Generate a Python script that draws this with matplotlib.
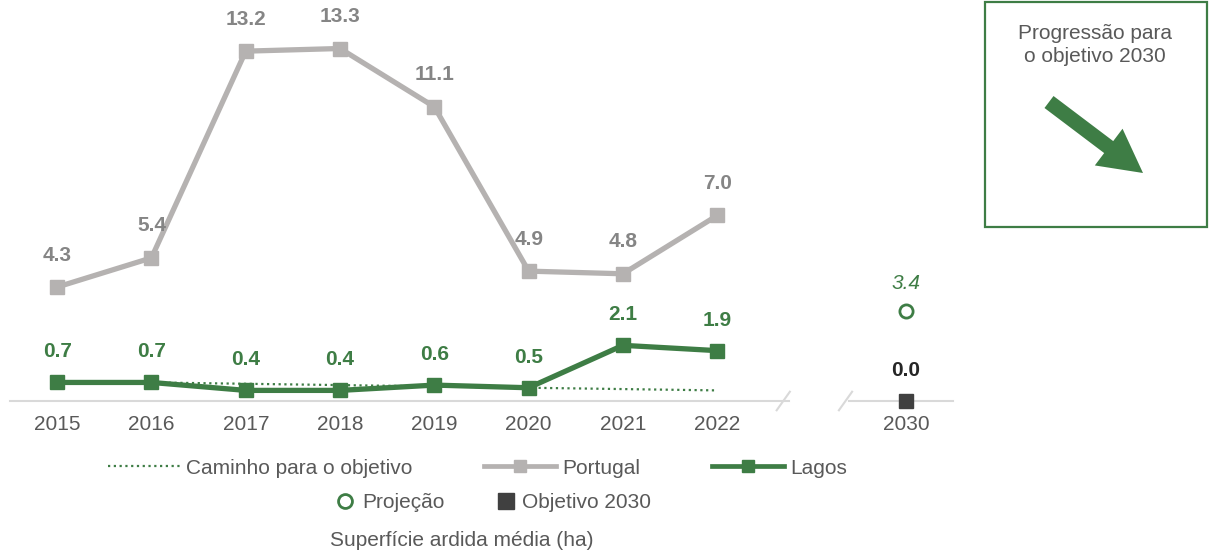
import matplotlib
matplotlib.use("Agg")
import matplotlib.pyplot as plt
from matplotlib.lines import Line2D
from matplotlib.patches import Rectangle, FancyArrow

plt.rcParams['font.family'] = ['Liberation Sans', 'DejaVu Sans']

# ---- data ----
years = ["2015", "2016", "2017", "2018", "2019", "2020", "2021", "2022"]
portugal = [4.3, 5.4, 13.2, 13.3, 11.1, 4.9, 4.8, 7.0]
lagos = [0.7, 0.7, 0.4, 0.4, 0.6, 0.5, 2.1, 1.9]
path_years = ["2016", "2022"]
path_vals = [0.7, 0.4]
target_year = "2030"
projection = 3.4
objective = 0.0

GREEN = "#3E7D45"
GREY_LINE = "#B5B2B1"
GREY_LAB = "#858585"
TXT = "#595959"
DARK = "#404040"
FS = 15

fig = plt.figure(figsize=(12.14, 5.53), dpi=100)
W, H = 1214, 553
ax = fig.add_axes([10 / W, 1 - 401 / H, 943 / W, 401 / H])

pos = {y: i for i, y in enumerate(years)}
pos[target_year] = len(years) + 1
xs = [pos[y] for y in years]

ax.set_xlim(-0.5, 9.5)
ax.set_ylim(0, 15.13)

# path to objective
ax.plot([pos[y] for y in path_years], path_vals, color=GREEN, lw=1.6,
        linestyle=(0, (1, 1.6)), zorder=2)
# Portugal
ax.plot(xs, portugal, color=GREY_LINE, lw=3.8, marker="s", ms=9.5,
        zorder=3, clip_on=False)
# Lagos
ax.plot(xs, lagos, color=GREEN, lw=3.8, marker="s", ms=9.5,
        zorder=4, clip_on=False)
# projection & objective
ax.plot([pos[target_year]], [projection], marker="o", ms=9.5, mfc="white",
        mec=GREEN, mew=2, ls="none", zorder=5, clip_on=False)
ax.plot([pos[target_year]], [objective], marker="s", ms=9.5, color=DARK,
        ls="none", zorder=5, clip_on=False)

# data labels
for x, v in zip(xs, portugal):
    ax.annotate(f"{v:.1f}", (x, v), xytext=(0, 23), textcoords="offset points",
                ha="center", va="center", fontsize=15, fontweight="bold",
                color=GREY_LAB)
for x, v in zip(xs, lagos):
    ax.annotate(f"{v:.1f}", (x, v), xytext=(0, 22), textcoords="offset points",
                ha="center", va="center", fontsize=15, fontweight="bold",
                color=GREEN)
ax.annotate(f"{projection:.1f}", (pos[target_year], projection), xytext=(0, 20),
            textcoords="offset points", ha="center", va="center", fontsize=15,
            fontstyle="italic", color=GREEN)
ax.annotate(f"{objective:.1f}", (pos[target_year], objective), xytext=(0, 22),
            textcoords="offset points", ha="center", va="center", fontsize=15,
            fontweight="bold", color="#262626")

# axis
for s in ax.spines.values():
    s.set_visible(False)
ax.set_yticks([])
ax.set_xticks(xs + [pos[target_year]])
ax.set_xticklabels(years + [target_year], fontsize=FS, color=TXT)
ax.tick_params(axis="x", length=0, pad=10)

AX_C = "#D9D9D9"
ax.plot([-0.5, 7.76], [0, 0], color=AX_C, lw=1.5, zorder=1, clip_on=False)
ax.plot([8.40, 9.5], [0, 0], color=AX_C, lw=1.5, zorder=1, clip_on=False)
for bx in (7.70, 8.36):
    ax.plot([bx - 0.07, bx + 0.07], [-0.35, 0.35], color=AX_C, lw=1.5,
            zorder=1, clip_on=False)

# legends
h_path = Line2D([], [], color=GREEN, lw=1.6, linestyle=(0, (1, 1.6)))
h_pt = Line2D([], [], color=GREY_LINE, lw=3.4, marker="s", ms=8)
h_lg = Line2D([], [], color=GREEN, lw=3.4, marker="s", ms=8.5)
fig.legend([h_path, h_pt, h_lg],
           ["Caminho para o objetivo", "Portugal", "Lagos"],
           loc="center", bbox_to_anchor=(477.5 / W, 1 - 468 / H), ncol=3,
           frameon=False, fontsize=FS, handlelength=3.45,
           handletextpad=0.3, columnspacing=3.45, labelcolor=TXT)
h_pr = Line2D([], [], marker="o", ms=10, mfc="white", mec=GREEN, mew=2, ls="none")
h_ob = Line2D([], [], marker="s", ms=11.5, color=DARK, ls="none")
fig.legend([h_pr, h_ob], ["Projeção", "Objetivo 2030"],
           loc="center", bbox_to_anchor=(493 / W, 1 - 503 / H), ncol=2,
           frameon=False, fontsize=FS, handlelength=1.0,
           handletextpad=0.3, columnspacing=2.45, labelcolor=TXT)
fig.text(462 / W, 1 - 540 / H, "Superfície ardida média (ha)", ha="center",
         va="center", fontsize=FS, color=TXT)

# progression box (pixel overlay)
ov = fig.add_axes([0, 0, 1, 1], facecolor="none")
ov.set_xlim(0, W)
ov.set_ylim(H, 0)
ov.axis("off")
ov.add_patch(Rectangle((985, 2), 222, 225, fill=False, edgecolor=GREEN, lw=1.6))
ov.text(1095, 45, "Progressão para\no objetivo 2030", ha="center", va="center",
        fontsize=15, color=TXT, linespacing=1.3)
ov.add_patch(FancyArrow(1049, 102, 94, 71, width=15, head_width=46,
                        head_length=43, length_includes_head=True,
                        color=GREEN, lw=0))

fig.savefig("out.png", dpi=100)
